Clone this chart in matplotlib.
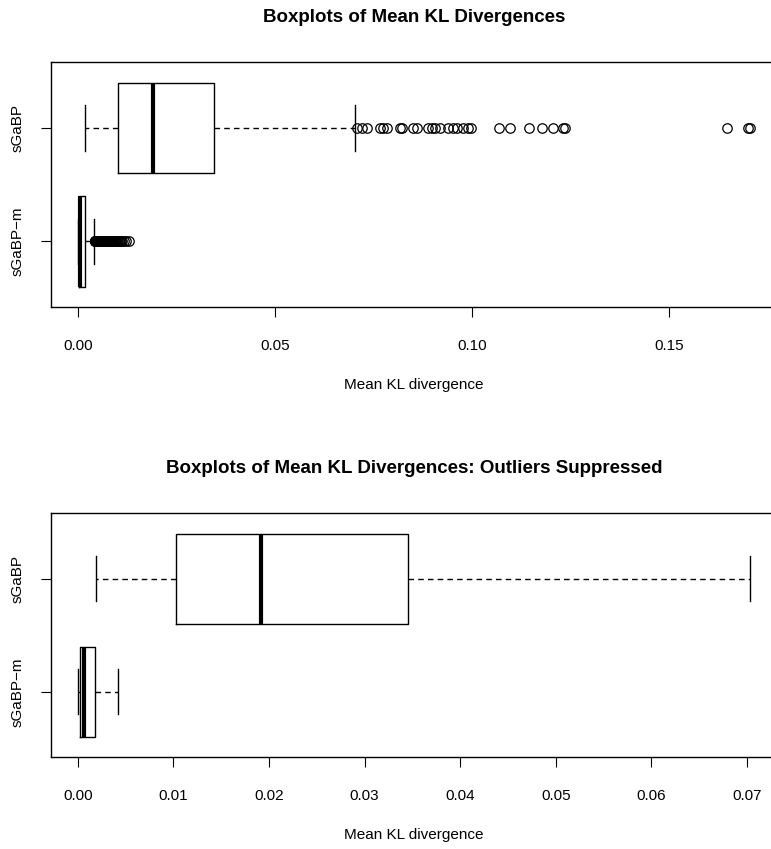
import matplotlib
matplotlib.use("Agg")
import matplotlib.pyplot as plt

plt.rcParams['font.family'] = ['Liberation Sans', 'DejaVu Sans']

labels = ['sGaBP\u2212m', 'sGaBP']

# five-number summaries: [whislo, q1, med, q3, whishi]
sgabp_m = [0.0, 0.00024, 0.00063, 0.00184, 0.00422]
sgabp = [0.0019, 0.01023, 0.0192, 0.0345, 0.0703]

sgabp_m_out = [0.00428, 0.00431, 0.00434, 0.00438, 0.00441, 0.00444, 0.00447,
               0.00451, 0.00455, 0.00458, 0.00462, 0.00466, 0.00470, 0.00474,
               0.00478, 0.00482, 0.00486, 0.00490, 0.00495, 0.00499, 0.00503,
               0.00508, 0.00512, 0.00517, 0.00522, 0.00527, 0.00531, 0.00537,
               0.00543, 0.00549, 0.00556, 0.00562, 0.00568, 0.00575, 0.00581,
               0.00589, 0.00597, 0.00604, 0.00612, 0.00621, 0.00630, 0.00639,
               0.00648, 0.00656, 0.00665, 0.00676, 0.00688, 0.00699, 0.00710,
               0.00722, 0.00735, 0.00748, 0.00762, 0.00776, 0.00790, 0.00806,
               0.00822, 0.00839, 0.00856, 0.00874, 0.00893, 0.00914, 0.00935,
               0.00956, 0.00978, 0.00998, 0.01018, 0.01040, 0.01062, 0.01090,
               0.01115, 0.01172, 0.01230, 0.01305]
sgabp_out = [0.0710, 0.0721, 0.0733, 0.0766, 0.0776, 0.0786, 0.0818, 0.0822,
             0.0852, 0.0860, 0.0890, 0.0898, 0.0907, 0.0920, 0.0941, 0.0953,
             0.0962, 0.0979, 0.0991, 0.0999, 0.1068, 0.1097, 0.1146, 0.1178,
             0.1207, 0.1232, 0.1237, 0.1647, 0.1702, 0.1706]

top_ticks = [0.00, 0.05, 0.10, 0.15]
bottom_ticks = [0.00, 0.01, 0.02, 0.03, 0.04, 0.05, 0.06, 0.07]


def make_stats(summ, fliers, label):
    lo, q1, med, q3, hi = summ
    return dict(whislo=lo, q1=q1, med=med, q3=q3, whishi=hi, fliers=fliers, label=label)


def draw(ax, show_fliers, ticks, title):
    stats = [make_stats(sgabp_m, sgabp_m_out if show_fliers else [], labels[0]),
             make_stats(sgabp, sgabp_out if show_fliers else [], labels[1])]
    ax.bxp(stats, positions=[1, 2], widths=0.8, capwidths=0.4,
           orientation='horizontal', showfliers=show_fliers,
           boxprops=dict(color='black', linewidth=1.0),
           medianprops=dict(color='black', linewidth=3.0, solid_capstyle='butt'),
           whiskerprops=dict(color='black', linewidth=1.0, linestyle=(0, (4, 3))),
           capprops=dict(color='black', linewidth=1.0),
           flierprops=dict(marker='o', markerfacecolor='none', markeredgecolor='black',
                           markersize=6.8, markeredgewidth=0.9))
    vals = []
    for s in stats:
        vals += [s['whislo'], s['whishi']] + list(s['fliers'])
    lo, hi = min(vals), max(vals)
    pad = 0.04 * (hi - lo)  # R-style 4% axis extension
    ax.set_xlim(lo - pad, hi + pad)
    ax.set_ylim(0.42, 2.58)
    ax.set_xticks(ticks)
    ax.set_xticklabels(['%.2f' % t for t in ticks])
    ax.set_yticks([1, 2])
    ax.set_yticklabels(labels, rotation=90, va='center')
    ax.tick_params(axis='both', direction='out', length=7, width=0.8, labelsize=11)
    ax.tick_params(axis='x', pad=16)
    ax.tick_params(axis='y', pad=12)
    for sp in ax.spines.values():
        sp.set_linewidth(1.0)
    ax.set_xlabel('Mean KL divergence', fontsize=11, labelpad=18)
    ax.set_title(title, fontsize=13.5, fontweight='bold', pad=29)


fig = plt.figure(figsize=(7.71, 8.49), dpi=100)
ax1 = fig.add_axes([0.0659, 0.6380, 0.9416, 0.2889])
ax2 = fig.add_axes([0.0659, 0.1080, 0.9416, 0.2874])

draw(ax1, True, top_ticks, 'Boxplots of Mean KL Divergences')
draw(ax2, False, bottom_ticks, 'Boxplots of Mean KL Divergences: Outliers Suppressed')

fig.savefig('out.png', dpi=100)
